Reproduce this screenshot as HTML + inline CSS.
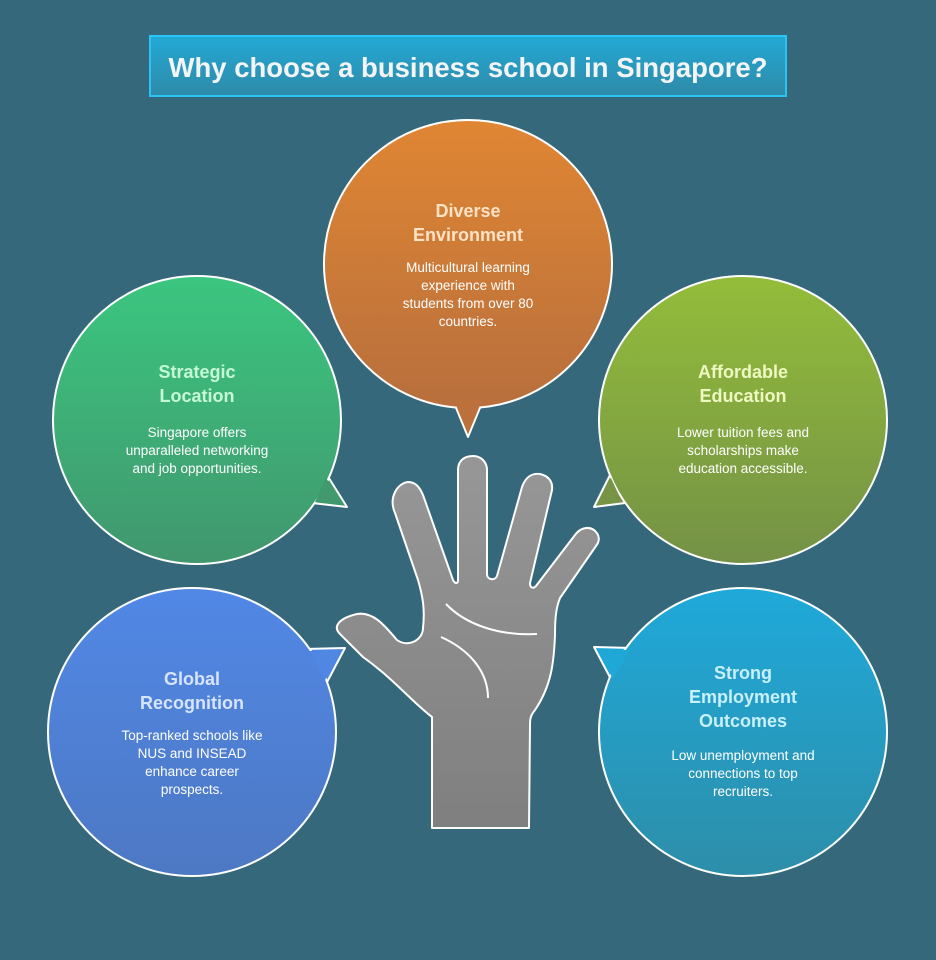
<!DOCTYPE html>
<html><head><meta charset="utf-8"><style>
html,body{margin:0;padding:0;background:#35687a;}
svg{display:block;font-family:"Liberation Sans",sans-serif;}
</style></head><body>
<svg width="936" height="960" viewBox="0 0 936 960" xmlns="http://www.w3.org/2000/svg">
<defs>
<linearGradient id="tg" x1="0" y1="0" x2="0" y2="1"><stop offset="0" stop-color="#22a9d6"/><stop offset="1" stop-color="#2f8aa8"/></linearGradient>
<linearGradient id="go" x1="0" y1="0" x2="0" y2="1"><stop offset="0" stop-color="#e08633"/><stop offset="1" stop-color="#b86f3d"/></linearGradient>
<linearGradient id="gg" x1="0" y1="0" x2="0" y2="1"><stop offset="0" stop-color="#3bc67f"/><stop offset="1" stop-color="#41976e"/></linearGradient>
<linearGradient id="gl" x1="0" y1="0" x2="0" y2="1"><stop offset="0" stop-color="#93bd3a"/><stop offset="1" stop-color="#749146"/></linearGradient>
<linearGradient id="gb" x1="0" y1="0" x2="0" y2="1"><stop offset="0" stop-color="#5188e6"/><stop offset="1" stop-color="#4d78c3"/></linearGradient>
<linearGradient id="gc" x1="0" y1="0" x2="0" y2="1"><stop offset="0" stop-color="#1fa9da"/><stop offset="1" stop-color="#2d8ea9"/></linearGradient>
<linearGradient id="gh" x1="0" y1="0" x2="0" y2="1"><stop offset="0" stop-color="#979797"/><stop offset="1" stop-color="#7f7f7f"/></linearGradient>
</defs>
<rect x="150" y="36" width="636" height="60" fill="url(#tg)" stroke="#29c4f4" stroke-width="2"/>
<text x="468" y="77" text-anchor="middle" font-size="27.5" font-weight="bold" fill="#f4f4f4">Why choose a business school in Singapore?</text>

<g stroke="#fff" stroke-width="2" stroke-linejoin="round">
<polygon points="452,398 484,398 468,437" fill="url(#go)"/>
<circle cx="468" cy="264" r="144" fill="url(#go)"/>
<polygon points="453,398 483,398 468,434" fill="#bc713c" stroke="none"/>

<polygon points="327,475 312,503 347,507" fill="#41996e"/>
<circle cx="197" cy="420" r="144" fill="url(#gg)"/>
<polygon points="326,478 315,502 344,505" fill="#41996e" stroke="none"/>

<polygon points="610,475 625,503 594,507" fill="#779446"/>
<circle cx="743" cy="420" r="144" fill="url(#gl)"/>
<polygon points="611,478 622,502 597,505" fill="#779446" stroke="none"/>

<polygon points="305,649 345,648 326,684" fill="#5087e3"/>
<circle cx="192" cy="732" r="144" fill="url(#gb)"/>
<polygon points="308,651 342,650 325,680" fill="#5087e3" stroke="none"/>

<polygon points="632,648 594,647 613,683" fill="#1fa7d6"/>
<circle cx="743" cy="732" r="144" fill="url(#gc)"/>
<polygon points="630,650 597,649 613,679" fill="#1fa7d6" stroke="none"/>
</g>

<path d="M432,828 L432,717 C410,700 395,680 363,657 L340,634 C332,626 340,618 357,614 C375,611 388,630 397,640 C408,648 423,640 423,628 C425,610 423,597 418,580 L395,513 C388,497 398,483 408,482 C416,482 420,488 423,495 L453,580 C455,584 458,584 458,580 L458,470 C458,460 465,456 473,456 C481,456 487,462 487,470 L487,574 C487,580 495,581 497,576 L522,487 C526,476 533,473 540,474 C549,476 553,482 552,490 L530,583 C530,588 533,589 536,586 L575,535 C580,528 588,526 594,530 C600,535 600,541 596,546 L560,598 C556,608 555,618 555,635 C554,660 552,685 535,710 C530,716 530,720 530,725 L529,828 Z" fill="url(#gh)" stroke="#fff" stroke-width="2" stroke-linejoin="round"/>
<path d="M446,604 C466,625 500,636 537,634" fill="none" stroke="#fff" stroke-width="2"/>
<path d="M441,637 C470,650 488,672 488,698" fill="none" stroke="#fff" stroke-width="2"/>

<g text-anchor="middle" font-weight="bold" font-size="18">
<text x="468" y="217" fill="#fde2c6">Diverse</text><text x="468" y="241" fill="#fde2c6">Environment</text>
<text x="197" y="378" fill="#c6f8d8">Strategic</text><text x="197" y="402" fill="#c6f8d8">Location</text>
<text x="743" y="378" fill="#eef9c2">Affordable</text><text x="743" y="402" fill="#eef9c2">Education</text>
<text x="192" y="685" fill="#d6e4fd">Global</text><text x="192" y="709" fill="#d6e4fd">Recognition</text>
<text x="743" y="679" fill="#c8f0fd">Strong</text><text x="743" y="703" fill="#c8f0fd">Employment</text><text x="743" y="727" fill="#c8f0fd">Outcomes</text>
</g>
<g text-anchor="middle" font-size="13.5" fill="#fff">
<text x="468" y="272">Multicultural learning</text><text x="468" y="290">experience with</text><text x="468" y="308">students from over 80</text><text x="468" y="326">countries.</text>
<text x="197" y="437">Singapore offers</text><text x="197" y="455">unparalleled networking</text><text x="197" y="473">and job opportunities.</text>
<text x="743" y="437">Lower tuition fees and</text><text x="743" y="455">scholarships make</text><text x="743" y="473">education accessible.</text>
<text x="192" y="740">Top-ranked schools like</text><text x="192" y="758">NUS and INSEAD</text><text x="192" y="776">enhance career</text><text x="192" y="794">prospects.</text>
<text x="743" y="760">Low unemployment and</text><text x="743" y="778">connections to top</text><text x="743" y="796">recruiters.</text>
</g>
</svg>
</body></html>
